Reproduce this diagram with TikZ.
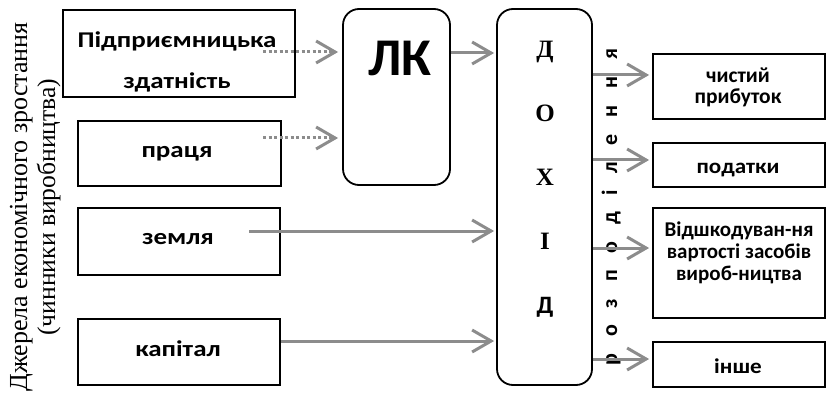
\documentclass[tikz,border=0pt]{standalone}
\usepackage{fontspec}
\setmainfont{Liberation Serif}
\newfontfamily\calfont{Carlito}
\newfontfamily\calwidefont{Carlito}[FakeStretch=1.2]
\newfontfamily\calmidfont{Carlito}[FakeStretch=1.1]
\newfontfamily\calspfont{Carlito}[LetterSpace=76]
\usetikzlibrary{arrows.meta}
\definecolor{arrgray}{RGB}{140,140,140}
\tikzset{
  box/.style={draw, line width=1.8pt, inner sep=0pt},
  rbox/.style={box, rounded corners=16pt},
  btxt/.style={font=\calwidefont\bfseries\fontsize{22.5}{24}\selectfont, align=center, inner sep=0pt},
  rtxt/.style={font=\calmidfont\bfseries\fontsize{21}{22}\selectfont, align=center, inner sep=0pt},
  garr/.style={draw=arrgray, line width=3pt, -{Straight Barb[length=19pt,width=22pt]}},
  darr/.style={garr, dash pattern=on 3pt off 2.5pt},
  vtxt/.style={rotate=90, anchor=base, inner sep=0pt},
}
\begin{document}
\begin{tikzpicture}[x=1pt,y=-1pt]
\useasboundingbox (0,0) rectangle (826,398);
% left vertical caption
\node[vtxt, font=\fontsize{26}{28}\selectfont] (srcA) at (27,207) {Джерела економічного зростання};
\node[vtxt, font=\fontsize{25.6}{28}\selectfont] (srcB) at (55,207) {(чинники виробництва)};
% source boxes
\node[box, minimum width=232pt, minimum height=87pt] (pz) at (179,53.5) {};
\node[btxt, font=\calwidefont\bfseries\fontsize{22.5}{41}\selectfont] (pzt) at (177,62) {Підприємницька\\здатність};
\node[box, minimum width=203pt, minimum height=65pt] (pr) at (179.5,153.5) {};
\node[btxt] (prt) at (177,153.5) {праця};
\node[box, minimum width=202pt, minimum height=67pt] (zm) at (179,241.5) {};
\node[btxt] (zmt) at (178,239) {земля};
\node[box, minimum width=202pt, minimum height=66pt] (kp) at (179,352) {};
\node[btxt] (kpt) at (178,348.5) {капітал};
% LK
\node[rbox, minimum width=107pt, minimum height=176pt] (lk) at (396.5,97) {};
\node[font=\calfont\bfseries\fontsize{53}{53}\selectfont, inner sep=0pt] (lkt) at (400,58.5) {ЛК};
% DOHID
\node[rbox, minimum width=95pt, minimum height=376pt] (dh) at (544.5,197) {};
\node[align=center, font=\bfseries\fontsize{25}{64}\selectfont, inner sep=0pt] (dht) at (545,179) {Д\\О\\Х\\І\\{\calfont Д}};
% rozpodilennya
\node[vtxt, font=\calspfont\bfseries\fontsize{22}{22}\selectfont] (rozp) at (617,207) {розподілення};
% result boxes
\node[box, minimum width=172pt, minimum height=65pt] (np) at (739,86.5) {};
\node[rtxt, font=\calfont\bfseries\fontsize{21.5}{21}\selectfont] (npt) at (738,87.5) {чистий\\прибуток};
\node[box, minimum width=172pt, minimum height=44pt] (pd) at (739,165) {};
\node[rtxt] (pdt) at (738,170) {податки};
\node[box, minimum width=172pt, minimum height=110pt] (vd) at (739,263) {};
\node[rtxt, font=\calfont\bfseries\fontsize{21}{22}\selectfont] (vdt) at (739,253) {Відшкодуван-ня\\вартості засобів\\вироб-ництва};
\node[box, minimum width=172pt, minimum height=45pt] (in) at (739,364.5) {};
\node[rtxt] (int) at (738,366.5) {інше};
% free ends
\coordinate (s1) at (263,52);
\coordinate (s2) at (263,138);
\coordinate (s3) at (249,231);
% connectors
\draw[darr, shorten >=4pt] (s1) -- (lk.west |- s1);
\draw[darr, shorten >=4pt] (s2) -- (lk.west |- s2);
\draw[garr, shorten >=2pt] (lk.east |- 0,53) -- (dh.west |- 0,53);
\draw[garr, shorten >=2pt] (s3) -- (dh.west |- s3);
\draw[garr, shorten >=2pt] (kp.east |- 0,341) -- (dh.west |- 0,341);
\draw[garr, shorten >=3pt] (dh.east |- 0,75) -- (np.west |- 0,75);
\draw[garr, shorten >=3pt] (dh.east |- 0,160) -- (pd.west |- 0,160);
\draw[garr, shorten >=3pt] (dh.east |- 0,248) -- (vd.west |- 0,248);
\draw[garr, shorten >=3pt] (dh.east |- 0,359) -- (in.west |- 0,359);
\end{tikzpicture}
\end{document}
